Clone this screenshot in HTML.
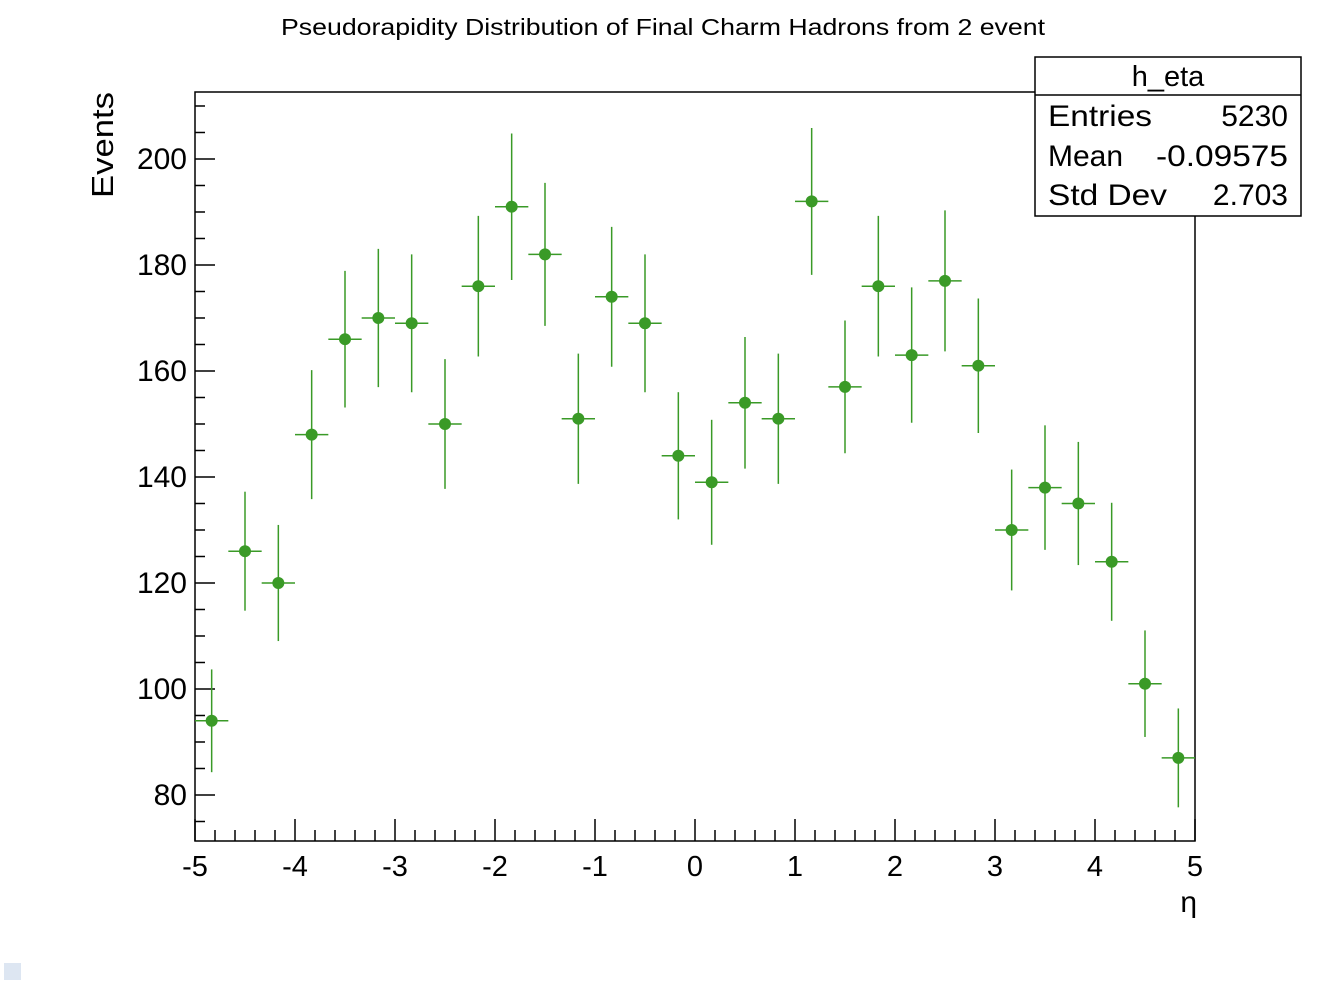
<!DOCTYPE html>
<html><head><meta charset="utf-8"><style>
body{margin:0;background:#fff;}
svg text{font-family:"Liberation Sans",sans-serif;}
</style></head><body>
<svg id="c" width="1322" height="986" xmlns="http://www.w3.org/2000/svg">
<rect width="1322" height="986" fill="#fff"/>
<text x="281" y="35" font-size="23" textLength="764" lengthAdjust="spacingAndGlyphs">Pseudorapidity Distribution of Final Charm Hadrons from 2 event</text>
<rect x="195" y="92" width="1000" height="749" fill="none" stroke="#000" stroke-width="1.5"/>
<g id="axes"></g>
<g id="marks"></g>
<text x="1197" y="912" font-size="30" text-anchor="end">η</text>
<text transform="translate(113,198) rotate(-90)" font-size="31" textLength="106" lengthAdjust="spacingAndGlyphs">Events</text>
<g>
<rect x="1035" y="57" width="266" height="159" fill="#fff" stroke="#000" stroke-width="1.5"/>
<line x1="1035" y1="95" x2="1301" y2="95" stroke="#000" stroke-width="1.5"/>
<text x="1168" y="86" font-size="29" text-anchor="middle">h_eta</text>
<text x="1048" y="126" font-size="30" textLength="104" lengthAdjust="spacingAndGlyphs">Entries</text><text x="1288" y="126" font-size="30" text-anchor="end">5230</text>
<text x="1048" y="166" font-size="30">Mean</text><text x="1288" y="166" font-size="30" text-anchor="end" textLength="132" lengthAdjust="spacingAndGlyphs">-0.09575</text>
<text x="1048" y="205" font-size="30" textLength="119" lengthAdjust="spacingAndGlyphs">Std Dev</text><text x="1288" y="205" font-size="30" text-anchor="end">2.703</text>
</g>
<rect x="4" y="963" width="17" height="17" fill="#dde6f2"/>
</svg>
<script>
const counts=[94,126,120,148,166,170,169,150,176,191,182,151,174,169,144,139,154,151,192,157,176,163,177,161,130,138,135,124,101,87];
const xTicks=[-5,-4,-3,-2,-1,0,1,2,3,4,5];
const yTicks=[80,100,120,140,160,180,200];
const xMin=-5,xMax=5,yMin=71.32,yMax=212.64;
const X=v=>195+(v-xMin)/(xMax-xMin)*1000;
const Y=v=>841-(v-yMin)/(yMax-yMin)*749;
const NS="http://www.w3.org/2000/svg";
const ax=document.getElementById('axes'),mk=document.getElementById('marks');
function mkEl(t,a,p){const e=document.createElementNS(NS,t);for(const k in a)e.setAttribute(k,a[k]);p.appendChild(e);return e;}
for(let v=-5;v<=5.001;v+=0.2){const maj=Math.abs(v-Math.round(v))<1e-6;
 const l=mkEl('line',{x1:X(v),x2:X(v),y1:841,y2:maj?819:830,stroke:'#000','stroke-width':1.5},ax);
 
 }
xTicks.forEach(v=>{const t=mkEl('text',{x:X(v),y:876,'font-size':29,'text-anchor':'middle'},ax);t.textContent=v;
 
 });
for(let v=75;v<=210;v+=5){const maj=v%20===0;
 const l=mkEl('line',{x1:195,x2:maj?215:205,y1:Y(v),y2:Y(v),stroke:'#000','stroke-width':1.5},ax);
 
 }
yTicks.forEach(v=>{const t=mkEl('text',{x:187,y:Y(v)+10,'font-size':30,'text-anchor':'end'},ax);t.textContent=v;
 
 });
const w=(xMax-xMin)/counts.length,col='#3a9a27';
counts.forEach((n,i)=>{const c=xMin+(i+0.5)*w,e=Math.sqrt(n);
 const g=mkEl('g',{},mk);
 
 
 mkEl('line',{x1:X(c-w/2),x2:X(c+w/2),y1:Y(n),y2:Y(n),stroke:col,'stroke-width':1.5},g);
 mkEl('line',{x1:X(c),x2:X(c),y1:Y(n+e),y2:Y(n-e),stroke:col,'stroke-width':1.5},g);
 mkEl('circle',{cx:X(c),cy:Y(n),r:6,fill:col},g);});
</script>
</body></html>
